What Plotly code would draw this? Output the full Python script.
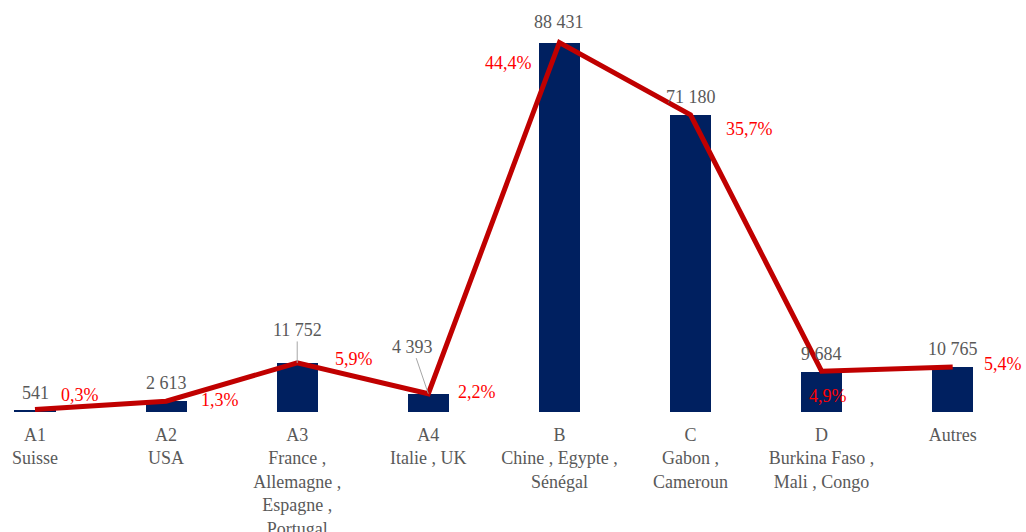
import plotly.graph_objects as go

codes = ["A1", "A2", "A3", "A4", "B", "C", "D", "Autres"]
countries = ["Suisse", "USA", "France ,<br>Allemagne ,<br>Espagne ,<br>Portugal", "Italie , UK",
             "Chine , Egypte ,<br>Sénégal", "Gabon ,<br>Cameroun", "Burkina Faso ,<br>Mali , Congo", ""]
values = [541, 2613, 11752, 4393, 88431, 71180, 9684, 10765]
value_labels = ["541", "2 613", "11 752", "4 393", "88 431", "71 180", "9 684", "10 765"]
shares = [0.3, 1.3, 5.9, 2.2, 44.4, 35.7, 4.9, 5.4]
share_labels = ["0,3%", "1,3%", "5,9%", "2,2%", "44,4%", "35,7%", "4,9%", "5,4%"]

FONT = "Liberation Serif, Times New Roman, serif"
GRAY = "#595959"
x = list(range(len(codes)))
ticktext = [c + ("<br>" + n if n else "") for c, n in zip(codes, countries)]

total = sum(values)
ymax = 93900
y2max = ymax / total * 100

fig = go.Figure()
fig.add_trace(go.Bar(x=x, y=values, width=0.313, marker=dict(color="#002060", line=dict(width=0)),
                     yaxis="y", hoverinfo="skip"))
fig.add_trace(go.Scatter(x=x, y=shares, mode="lines", yaxis="y2",
                         line=dict(color="#C00000", width=5), hoverinfo="skip"))

# value labels (offsets in px: dx, dy-up, leader line?)
v_off = [(0, 17, False), (0, 18, False), (0, 33, True), (-16, 47, True),
         (0, 21, False), (0, 18, False), (0, 18, False), (0, 18, False)]
for i, (v, t) in enumerate(zip(values, value_labels)):
    dx, dy, lead = v_off[i]
    if lead:
        fig.add_annotation(x=i, y=v, xref="x", yref="y", text=t, showarrow=True,
                           ax=dx, ay=-dy, arrowhead=0, arrowwidth=1, arrowcolor="#A6A6A6",
                           standoff=0, font=dict(family=FONT, size=18, color=GRAY))
    else:
        fig.add_annotation(x=i, y=v, xref="x", yref="y", text=t, showarrow=False,
                           xshift=dx, yshift=dy, font=dict(family=FONT, size=18, color=GRAY))

p_off = [(45, 15), (54, 1), (57, 4), (49, 2), (-51, -21), (59, -14), (6, -25), (50, 3)]
for i, (s, t) in enumerate(zip(shares, share_labels)):
    dx, dy = p_off[i]
    fig.add_annotation(x=i, y=s, xref="x", yref="y2", text=t, showarrow=False,
                       xshift=dx, yshift=dy, font=dict(family=FONT, size=18, color="#FF0000"))

fig.update_layout(
    width=1026, height=532,
    margin=dict(l=0, r=0, t=20, b=120, autoexpand=False),
    paper_bgcolor="white", plot_bgcolor="white",
    showlegend=False, bargap=0,
    xaxis=dict(range=[-0.267, 7.559], tickvals=x, ticktext=ticktext, showgrid=False,
               zeroline=False, showline=False, ticks="", ticklabelstandoff=10, automargin=False,
               tickfont=dict(family=FONT, size=18, color=GRAY)),
    yaxis=dict(range=[0, ymax], visible=False, showgrid=False, zeroline=False, automargin=False),
    yaxis2=dict(range=[0, y2max], overlaying="y", visible=False, showgrid=False, zeroline=False,
                automargin=False),
)
fig.write_html("out.html", config={"displayModeBar": False},
               post_script="document.body.style.margin='0';document.body.style.overflow='hidden';")
